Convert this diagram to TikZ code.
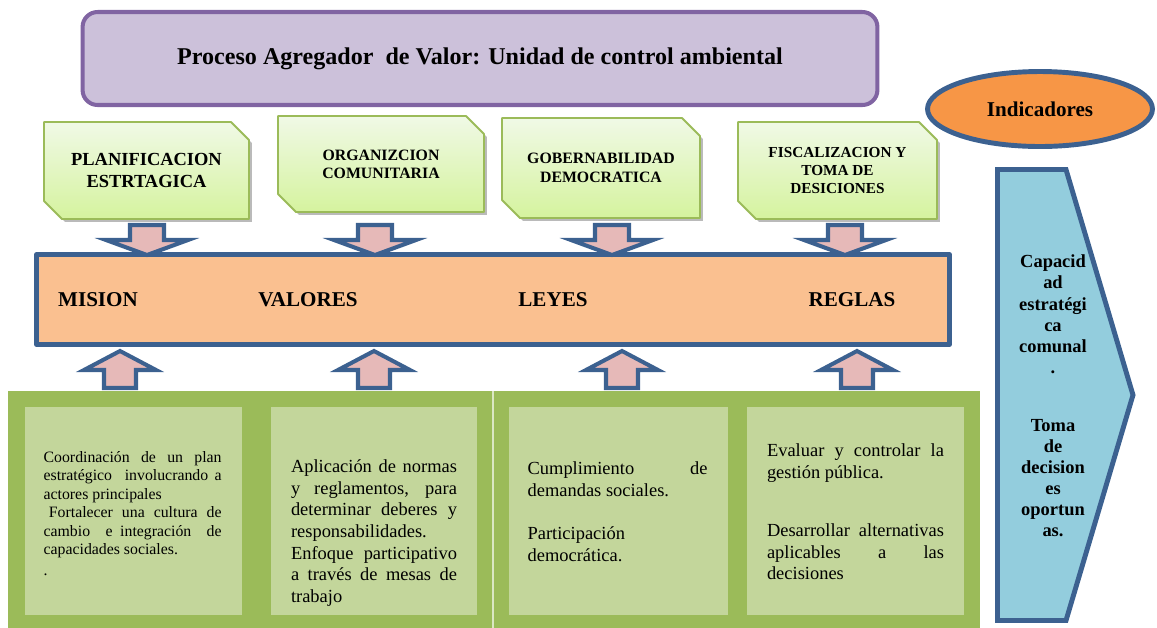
\documentclass[tikz,border=0pt]{standalone}
\usepackage{fontspec}
\setmainfont{Liberation Serif}
\usetikzlibrary{shapes.misc,shapes.geometric,shadows}
\definecolor{viola}{HTML}{8064A2}
\definecolor{violachiaro}{HTML}{CCC1DA}
\definecolor{verdebordo}{HTML}{9BBB59}
\definecolor{verdealto}{HTML}{F0F9E6}
\definecolor{verdebasso}{HTML}{D5F39E}
\definecolor{blubordo}{HTML}{3C6190}
\definecolor{rosa}{HTML}{E6B9B8}
\definecolor{arancio}{HTML}{FAC090}
\definecolor{aranciocupo}{HTML}{F79646}
\definecolor{verdescuro}{HTML}{9BBB59}
\definecolor{verdetenue}{HTML}{C3D69B}
\definecolor{celeste}{HTML}{93CDDD}

\begin{document}
\begin{tikzpicture}[x=0.02cm,y=-0.02cm,line join=round,
  titolo/.style={draw=viola,fill=violachiaro,line width=2.3pt,rounded corners=0.3cm,
    minimum width=15.9cm,minimum height=1.86cm,font=\fontsize{13.7}{16}\selectfont\bfseries},
  ellisse/.style={ellipse,draw=blubordo,fill=aranciocupo,line width=2.8pt,
    minimum width=4.5cm,minimum height=1.5cm,font=\fontsize{12}{14}\selectfont\bfseries},
  area/.style={chamfered rectangle,chamfered rectangle corners={north east,south west},
    chamfered rectangle xsep=0.18cm,chamfered rectangle ysep=0.18cm,
    draw=verdebordo,line width=1.1pt,top color=verdealto,bottom color=verdebasso,
    drop shadow={shadow xshift=1.6pt,shadow yshift=-1.6pt,opacity=.45,fill=black!60},
    align=center,inner sep=0pt},
  cornice/.style={draw=blubordo,fill=arancio,line width=2.8pt,
    minimum width=18.26cm,minimum height=1.8cm},
  etichetta/.style={font=\fontsize{12}{14}\selectfont\bfseries},
  freccia/.style={draw=blubordo,fill=rosa,line width=2.3pt,line join=miter},
  riquadro/.style={fill=verdetenue,inner sep=0pt,minimum height=4.16cm},
  testo/.style={align=justify,inner sep=0pt,font=\fontsize{10.5}{12.3}\selectfont},
  punta/.style={draw=blubordo,fill=celeste,line width=2.8pt,line join=miter}]
  \useasboundingbox (0,0) rectangle (1157,627);

  % --- titolo in alto
  \node[titolo] (titolo) at (480,58.5) {Proceso Agregador\ \ de Valor: Unidad de control ambiental};
  \node[ellisse] (indicadores) at (1040,109) {Indicadores};

  % --- le quattro aree con gli angoli smussati
  \node[area,minimum width=4.1cm,minimum height=1.94cm,font=\fontsize{10.5}{12.5}\selectfont\bfseries]
    (planif) at (146.5,170.5) {PLANIFICACION\\ESTRTAGICA};
  \node[area,minimum width=4.12cm,minimum height=1.92cm,font=\fontsize{9}{10.3}\selectfont\bfseries]
    (organiz) at (381,164) {ORGANIZCION\\COMUNITARIA};
  \node[area,minimum width=3.96cm,minimum height=2cm,font=\fontsize{9}{10.8}\selectfont\bfseries]
    (gobern) at (601,168) {GOBERNABILIDAD\\DEMOCRATICA};
  \node[area,minimum width=3.98cm,minimum height=1.94cm,font=\fontsize{8.7}{10.5}\selectfont\bfseries]
    (fiscal) at (837.5,170.5) {FISCALIZACION Y\\TOMA DE\\DESICIONES};

  % --- fascia centrale
  \node[cornice] (cornice) at (493,299.5) {};
  \node[etichetta] (mision) at (98,300) {MISION};
  \node[etichetta] (valores) at (308,300) {VALORES};
  \node[etichetta] (leyes) at (553,300) {LEYES};
  \node[etichetta] (reglas) at (852,300) {REGLAS};

  % --- frecce verso la fascia
  \foreach \x in {147,375,612,845}
    \draw[freccia] (\x-17,225) -- (\x+17,225) -- (\x+17,240) -- (\x+41,240) -- (\x,255)
      -- (\x-41,240) -- (\x-17,240) -- cycle;
  \foreach \x in {120,374,622,857}
    \draw[freccia] (\x-16,388) -- (\x-16,370) -- (\x-36,370) -- (\x,351) -- (\x+36,370)
      -- (\x+16,370) -- (\x+16,388) -- cycle;

  % --- base verde con i quattro riquadri
  \fill[verdescuro] (8,391) rectangle (980,630);
  \draw[verdetenue!60!white,line width=0.6pt] (493,391) -- (493,630);
  \node[riquadro,minimum width=4.34cm] (r1) at (133.5,511) {};
  \node[riquadro,minimum width=4.12cm] (r2) at (374,511) {};
  \node[riquadro,minimum width=4.38cm] (r3) at (618.5,511) {};
  \node[riquadro,minimum width=4.34cm] (r4) at (855.5,511) {};

  \node[testo,text width=3.56cm,font=\fontsize{9}{10.5}\selectfont] (t1) at ([xshift=-0.5pt,yshift=-1.5pt]r1.center)
    {Coordinación de un plan\linebreak estratégico\ \ involucrando a\linebreak actores principales\par
     \hspace{3pt}Fortalecer una cultura de\linebreak cambio\ \ e integración\ \ de\linebreak capacidades sociales.\par
     \vspace{1.5pt}.};
  \node[testo,text width=3.32cm] (t2) at ([yshift=-12.5pt]r2.center)
    {Aplicación de normas\linebreak y reglamentos, para\linebreak determinar deberes y\linebreak responsabilidades.\par
     Enfoque participativo\linebreak a través de mesas de\linebreak trabajo};
  \node[testo,text width=3.6cm] (t3) at ([xshift=-0.5pt,yshift=-0.5pt]r3.center)
    {Cumplimiento de\linebreak demandas sociales.\par\vspace{12.3pt}
     Participación\newline democrática.};
  \node[testo,text width=3.54cm] (t4) at ([yshift=-0.5pt]r4.center)
    {Evaluar y controlar la\linebreak gestión pública.\par\vspace{21pt}
     Desarrollar alternativas\linebreak aplicables a las\linebreak decisiones};

  % --- freccia laterale degli indicatori
  \draw[punta] (997.5,169.5) -- (1066,169.5) -- (1133,395) -- (1066,620.5) -- (997.5,620.5) -- cycle;
  \node[align=center,font=\fontsize{10.5}{12}\selectfont\bfseries] (capacidad) at (1053,396)
    {Capacid\\ad\\estratégi\\ca\\comunal\\.\\[21pt]Toma\\de\\decision\\es\\oportun\\as.};
\end{tikzpicture}
\end{document}
